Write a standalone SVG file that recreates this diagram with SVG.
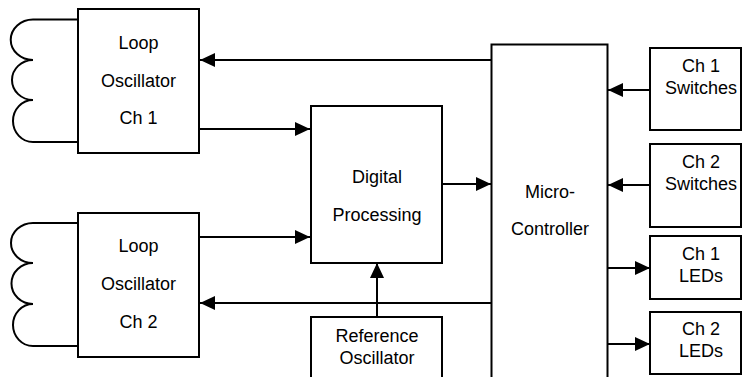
<svg xmlns="http://www.w3.org/2000/svg" width="743" height="377" viewBox="0 0 743 377">
<style>
  .box { fill: #fff; stroke: #000; stroke-width: 2; }
  .wire { fill: none; stroke: #000; stroke-width: 2; }
  .lbl { font-family: "Liberation Sans", Arial, sans-serif; font-size: 18px; fill: #000; text-anchor: middle; }
</style>
<defs>
  <marker id="ah" markerUnits="userSpaceOnUse" markerWidth="15" markerHeight="14" refX="15" refY="7" orient="auto">
    <path d="M0,0 L15,7 L0,14 z" fill="#000"/>
  </marker>
</defs>
<rect width="743" height="377" fill="#fff"/>

<g id="loop-osc-1">
  <path class="wire" d="M77,19.5 L33,19.5 A22,20 0 0 0 33,60 A21,20 0 0 0 33,100 A20,21 0 0 0 33,142 L77,142"/>
  <rect class="box" x="78" y="9" width="121" height="144"/>
  <text class="lbl" x="138.5" y="49">Loop</text>
  <text class="lbl" x="138.5" y="87">Oscillator</text>
  <text class="lbl" x="138.5" y="124">Ch 1</text>
</g>

<g id="loop-osc-2">
  <path class="wire" d="M77,223 L33,223 A22,20 0 0 0 33,263 A21,20 0 0 0 33,304 A20,21 0 0 0 33,346 L77,346"/>
  <rect class="box" x="78" y="213" width="121" height="144"/>
  <text class="lbl" x="138.5" y="252">Loop</text>
  <text class="lbl" x="138.5" y="290">Oscillator</text>
  <text class="lbl" x="138.5" y="328">Ch 2</text>
</g>

<g id="digital-processing">
  <rect class="box" x="311" y="106" width="131" height="157"/>
  <text class="lbl" x="377" y="183">Digital</text>
  <text class="lbl" x="377" y="221">Processing</text>
</g>

<g id="reference-oscillator">
  <rect class="box" x="311" y="317" width="131" height="100"/>
  <text class="lbl" x="377" y="342">Reference</text>
  <text class="lbl" x="377" y="364">Oscillator</text>
</g>

<g id="micro-controller">
  <rect class="box" x="491.5" y="44.5" width="116" height="400"/>
  <text class="lbl" x="550" y="198">Micro-</text>
  <text class="lbl" x="550" y="235">Controller</text>
</g>

<g id="ch1-switches">
  <rect class="box" x="650" y="48" width="91" height="82"/>
  <text class="lbl" x="701" y="72">Ch 1</text>
  <text class="lbl" x="701" y="94">Switches</text>
</g>

<g id="ch2-switches">
  <rect class="box" x="650" y="144" width="91" height="83"/>
  <text class="lbl" x="701" y="168">Ch 2</text>
  <text class="lbl" x="701" y="190">Switches</text>
</g>

<g id="ch1-leds">
  <rect class="box" x="650" y="236" width="91" height="63"/>
  <text class="lbl" x="701" y="260">Ch 1</text>
  <text class="lbl" x="701" y="282">LEDs</text>
</g>

<g id="ch2-leds">
  <rect class="box" x="650" y="312" width="91" height="62"/>
  <text class="lbl" x="701" y="335">Ch 2</text>
  <text class="lbl" x="701" y="357">LEDs</text>
</g>

<g id="connectors">
  <path class="wire" d="M491,60 L200,60" marker-end="url(#ah)"/>
  <path class="wire" d="M198,129 L310,129" marker-end="url(#ah)"/>
  <path class="wire" d="M198,237 L310,237" marker-end="url(#ah)"/>
  <path class="wire" d="M491,303 L200,303" marker-end="url(#ah)"/>
  <path class="wire" d="M442,184 L491,184" marker-end="url(#ah)"/>
  <path class="wire" d="M377,317 L377,263" marker-end="url(#ah)"/>
  <path class="wire" d="M650,90 L608,90" marker-end="url(#ah)"/>
  <path class="wire" d="M650,185 L608,185" marker-end="url(#ah)"/>
  <path class="wire" d="M607,268 L650,268" marker-end="url(#ah)"/>
  <path class="wire" d="M607,344 L650,344" marker-end="url(#ah)"/>
</g>
</svg>
